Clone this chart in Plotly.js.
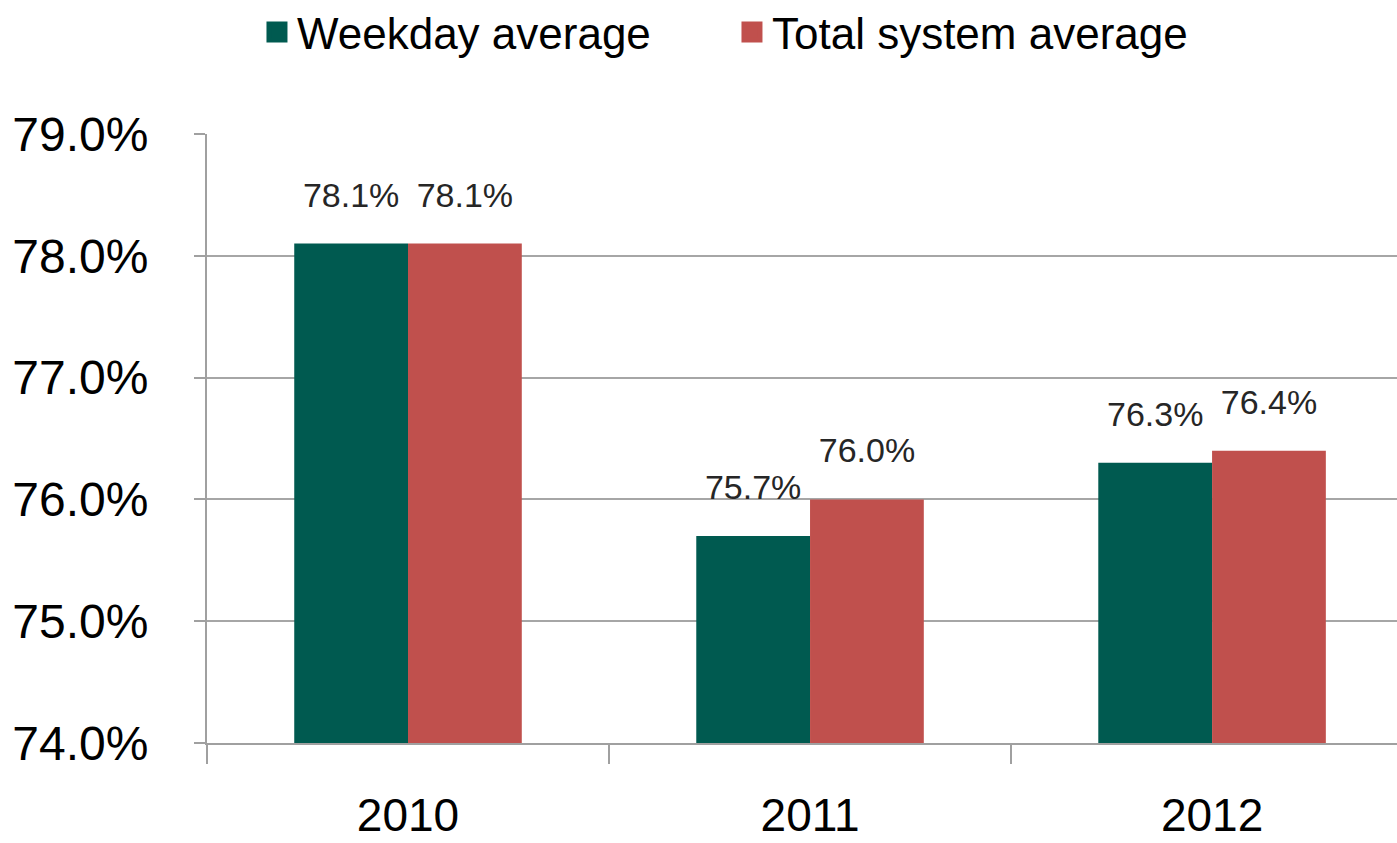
<!DOCTYPE html>
<html>
<head>
<meta charset="utf-8">
<script src="https://cdn.plot.ly/plotly-3.0.1.min.js"></script>
<style>
  html, body { margin: 0; padding: 0; background: #fff; }
  #chart { width: 1397px; height: 843px; }
</style>
</head>
<body>
<div id="chart"></div>
<script>
const years = ['2010', '2011', '2012'];
const weekdayAvg = [78.1, 75.7, 76.3];
const systemAvg = [78.1, 76.0, 76.4];
const seriesNames = ['Weekday average', 'Total system average'];
const seriesColors = ['#005a50', '#c0504d'];
const yTicks = [74, 75, 76, 77, 78, 79];

const fontFamily = 'Liberation Sans, Arial, sans-serif';
const groups = ['wd', 'sys'];
const seriesValues = [weekdayAvg, systemAvg];

const traces = [];

// bars
seriesValues.forEach((vals, i) => {
    traces.push({
        x: years,
        y: vals,
        type: 'bar',
        offsetgroup: groups[i],
        marker: { color: seriesColors[i] },
        showlegend: false,
        hoverinfo: 'skip',
    });
});

// value labels, lifted a bit above the bar tops like the original
seriesValues.forEach((vals, i) => {
    traces.push({
        x: years,
        y: vals,
        type: 'scatter',
        mode: 'markers+text',
        offsetgroup: groups[i],
        marker: { size: 44, opacity: 0 },
        text: vals.map(v => v.toFixed(1) + '%'),
        textposition: 'top center',
        textfont: { size: 34, color: '#262626', family: fontFamily },
        cliponaxis: false,
        showlegend: false,
        hoverinfo: 'skip',
    });
});

// legend entries (bigger square swatches)
seriesNames.forEach((name, i) => {
    traces.push({
        x: [null],
        y: [null],
        type: 'scatter',
        mode: 'markers',
        offsetgroup: groups[i],
        name: name,
        marker: { symbol: 'square', size: 16, color: seriesColors[i], line: { width: 5, color: seriesColors[i] } },
        hoverinfo: 'skip',
    });
});

const layout = {
    width: 1397,
    height: 843,
    margin: { t: 134, b: 100, l: 207, r: 0, autoexpand: false },
    paper_bgcolor: '#ffffff',
    plot_bgcolor: '#ffffff',
    font: { family: fontFamily, color: '#000000' },
    barmode: 'group',
    bargap: 0.434,
    bargroupgap: 0,
    scattermode: 'group',
    scattergap: 0.434,
    showlegend: true,
    legend: {
        orientation: 'h',
        x: 0.042,
        xanchor: 'left',
        y: 1.167,
        yanchor: 'middle',
        font: { size: 44, color: '#000000' },
        itemsizing: 'trace',
        entrywidth: 430,
        entrywidthmode: 'pixels',
    },
    xaxis: {
        type: 'category',
        range: [-0.5, 2.46],
        showgrid: false,
        showline: true,
        linecolor: '#a0a0a0',
        linewidth: 2,
        ticks: 'outside',
        tickson: 'boundaries',
        ticklen: 19,
        tickwidth: 2,
        tickcolor: '#a0a0a0',
        ticklabelstandoff: 31,
        tickfont: { size: 46, color: '#000000' },
        zeroline: false,
    },
    yaxis: {
        range: [74, 79],
        tickvals: yTicks,
        ticktext: yTicks.map(v => v.toFixed(1) + '%'),
        showgrid: true,
        gridcolor: '#a6a6a6',
        gridwidth: 2,
        showline: true,
        linecolor: '#a0a0a0',
        linewidth: 2,
        ticks: 'outside',
        ticklen: 11,
        tickwidth: 2,
        tickcolor: '#a0a0a0',
        ticklabelstandoff: 36,
        tickfont: { size: 48, color: '#000000' },
        zeroline: false,
    },
};

Plotly.newPlot('chart', traces, layout, { displayModeBar: false, staticPlot: true });
</script>
</body>
</html>
